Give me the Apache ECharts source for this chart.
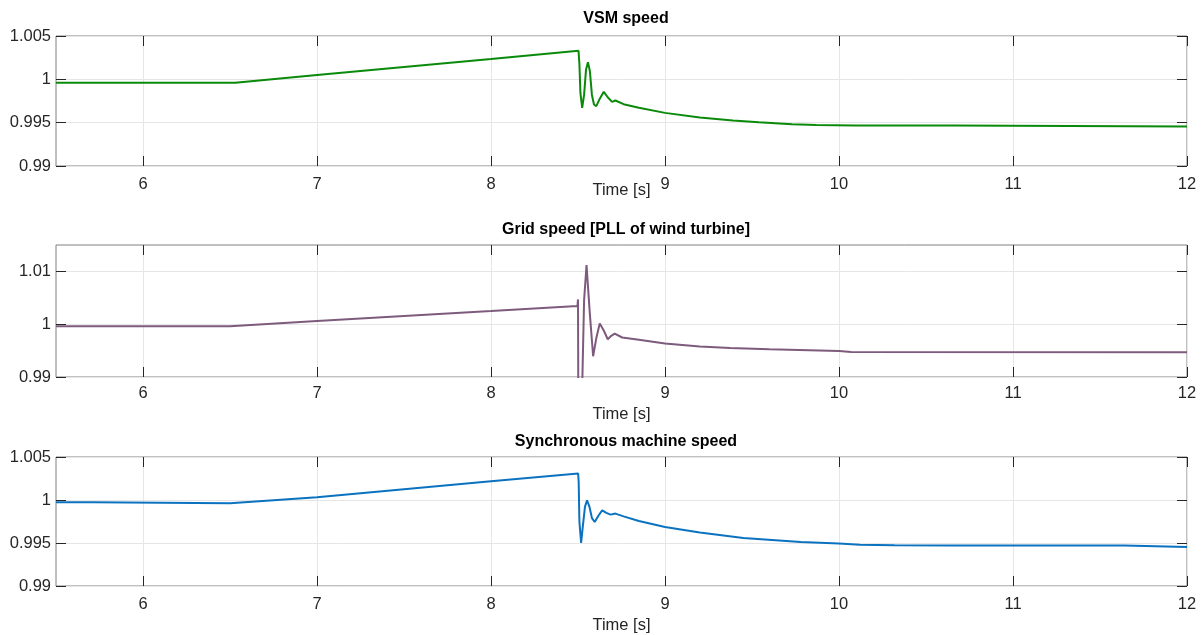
<!DOCTYPE html>
<html>
<head>
<meta charset="utf-8">
<script src="https://cdn.jsdelivr.net/npm/echarts@6/dist/echarts.min.js"></script>
<style>
html,body{margin:0;padding:0;background:#fff;}
#chart{width:1202px;height:635px;}
</style>
</head>
<body>
<div id="chart"></div>
<script>
const titles = ['VSM speed', 'Grid speed [PLL of wind turbine]', 'Synchronous machine speed'];
const xName = 'Time [s]';
const xTicks = [6, 7, 8, 9, 10, 11, 12];
const yTicksA = [0.99, 0.995, 1, 1.005];
const yTicksB = [0.99, 1, 1.01];

const vsmTime  = [5.5, 6.53, 7.0, 7.5, 8.0, 8.503, 8.508, 8.514, 8.524, 8.535, 8.546, 8.557, 8.568, 8.58, 8.592, 8.605, 8.626, 8.648, 8.672, 8.696, 8.715, 8.762, 8.85, 9.0, 9.2, 9.39, 9.54, 9.73, 9.87, 10.09, 10.65, 10.651, 12];
const vsmSpeed = [0.9996, 0.9996, 1.00049, 1.00142, 1.00234, 1.0033, 1.0018, 0.9984, 0.99671, 0.9982, 1.0011, 1.00196, 1.0010, 0.9982, 0.9971, 0.9969, 0.9978, 0.99856, 0.9979, 0.9974, 0.99756, 0.99713, 0.99672, 0.99613, 0.9956, 0.99525, 0.99505, 0.99482, 0.99474, 0.99467, 0.99467, 0.99456, 0.99456];

const gridTime  = [5.5, 6.5, 7.0, 7.5, 8.0, 8.497, 8.5, 8.502, 8.522, 8.535, 8.549, 8.568, 8.587, 8.606, 8.625, 8.648, 8.671, 8.691, 8.711, 8.754, 8.85, 9.0, 9.2, 9.375, 9.6, 10.0, 10.07, 12];
const gridSpeed = [0.99962, 0.99962, 1.0006, 1.00155, 1.0025, 1.00347, 1.0047, 0.985, 0.985, 1.0045, 1.0112, 1.002, 0.99393, 0.9975, 1.00013, 0.9988, 0.99715, 0.9978, 0.99823, 0.99748, 0.99705, 0.99634, 0.99577, 0.9955, 0.99525, 0.99493, 0.99474, 0.9947];

const smTime  = [5.5, 5.71, 5.711, 6.5, 7.0, 7.5, 8.0, 8.501, 8.504, 8.508, 8.518, 8.527, 8.54, 8.552, 8.566, 8.58, 8.596, 8.618, 8.639, 8.663, 8.687, 8.715, 8.762, 8.85, 9.0, 9.2, 9.45, 9.78, 10.0, 10.12, 10.32, 10.64, 11.64, 11.641, 12];
const smSpeed = [0.99973, 0.99973, 0.99962, 0.99962, 1.00031, 1.00124, 1.00217, 1.00307, 1.0020, 0.9975, 0.995, 0.9968, 0.9992, 0.99997, 0.9992, 0.9979, 0.99744, 0.9982, 0.9988, 0.9985, 0.9983, 0.99842, 0.9981, 0.99755, 0.99686, 0.99621, 0.99558, 0.99512, 0.99493, 0.99481, 0.99473, 0.9947, 0.9947, 0.99453, 0.99453];

const zip = (t, v) => t.map((x, i) => [x, v[i]]);

const FONT = '"Liberation Sans", Arial, sans-serif';
const tickColor = '#262626';
const panels = [
  {top: 36, height: 130, yMin: 0.99, yMax: 1.005, yTicks: yTicksA, data: zip(vsmTime, vsmSpeed), color: '#0a8a0a', nameGap: 16, labelMargin: 10},
  {top: 245, height: 132, yMin: 0.99, yMax: 1.015, yTicks: yTicksB, data: zip(gridTime, gridSpeed), color: '#7d5b7c', nameGap: 29, labelMargin: 8},
  {top: 457, height: 129, yMin: 0.99, yMax: 1.005, yTicks: yTicksA, data: zip(smTime, smSpeed), color: '#0b72c0', nameGap: 31, labelMargin: 10}
];

const grid = [], xAxis = [], yAxis = [], series = [], title = [];
const titleTops = [6, 217, 429];
panels.forEach((p, i) => {
  grid.push({left: 56, right: 15, top: p.top, height: p.height, show: true, borderColor: '#808080', borderWidth: 1, backgroundColor: '#fff'});
  title.push({text: titles[i], left: 621, top: titleTops[i], textAlign: 'center',
    textStyle: {fontFamily: FONT, fontSize: 16, fontWeight: 'bold', color: '#000'}});
  const fmt = v => String(parseFloat(v.toFixed(4)));
  xAxis.push({type: 'value', gridIndex: i, min: 5.5, max: 12, position: 'bottom',
    name: xName, nameLocation: 'middle', nameGap: p.nameGap, nameMoveOverlap: false,
    nameTextStyle: {fontFamily: FONT, fontSize: 16.5, color: tickColor},
    axisLine: {show: false},
    axisTick: {show: true, inside: true, length: 10, customValues: xTicks, lineStyle: {color: tickColor}},
    axisLabel: {customValues: xTicks, fontFamily: FONT, fontSize: 16.5, color: tickColor, margin: p.labelMargin, formatter: fmt},
    splitLine: {show: true, lineStyle: {color: '#e6e6e6', width: 1}}});
  xAxis.push({type: 'value', gridIndex: i, min: 5.5, max: 12, position: 'top',
    axisLine: {show: false},
    axisTick: {show: true, inside: true, length: 10, customValues: xTicks, lineStyle: {color: tickColor}},
    axisLabel: {show: false}, splitLine: {show: false}});
  yAxis.push({type: 'value', gridIndex: i, min: p.yMin, max: p.yMax, position: 'left',
    axisLine: {show: false},
    axisTick: {show: true, inside: true, length: 10, customValues: p.yTicks, lineStyle: {color: tickColor}},
    axisLabel: {customValues: p.yTicks, fontFamily: FONT, fontSize: 16.5, color: tickColor, margin: 5, formatter: fmt},
    splitLine: {show: true, lineStyle: {color: '#e6e6e6', width: 1}}});
  yAxis.push({type: 'value', gridIndex: i, min: p.yMin, max: p.yMax, position: 'right',
    axisLine: {show: false},
    axisTick: {show: true, inside: true, length: 10, customValues: p.yTicks, lineStyle: {color: tickColor}},
    axisLabel: {show: false}, splitLine: {show: false}});
  series.push({type: 'line', xAxisIndex: 2 * i, yAxisIndex: 2 * i, data: p.data,
    showSymbol: false, clip: true, lineStyle: {color: p.color, width: 2}, z: 5});
});

const chart = echarts.init(document.getElementById('chart'), null, {renderer: 'canvas'});
chart.setOption({animation: false, backgroundColor: '#fff', title, grid, xAxis, yAxis, series});
</script>
</body>
</html>
